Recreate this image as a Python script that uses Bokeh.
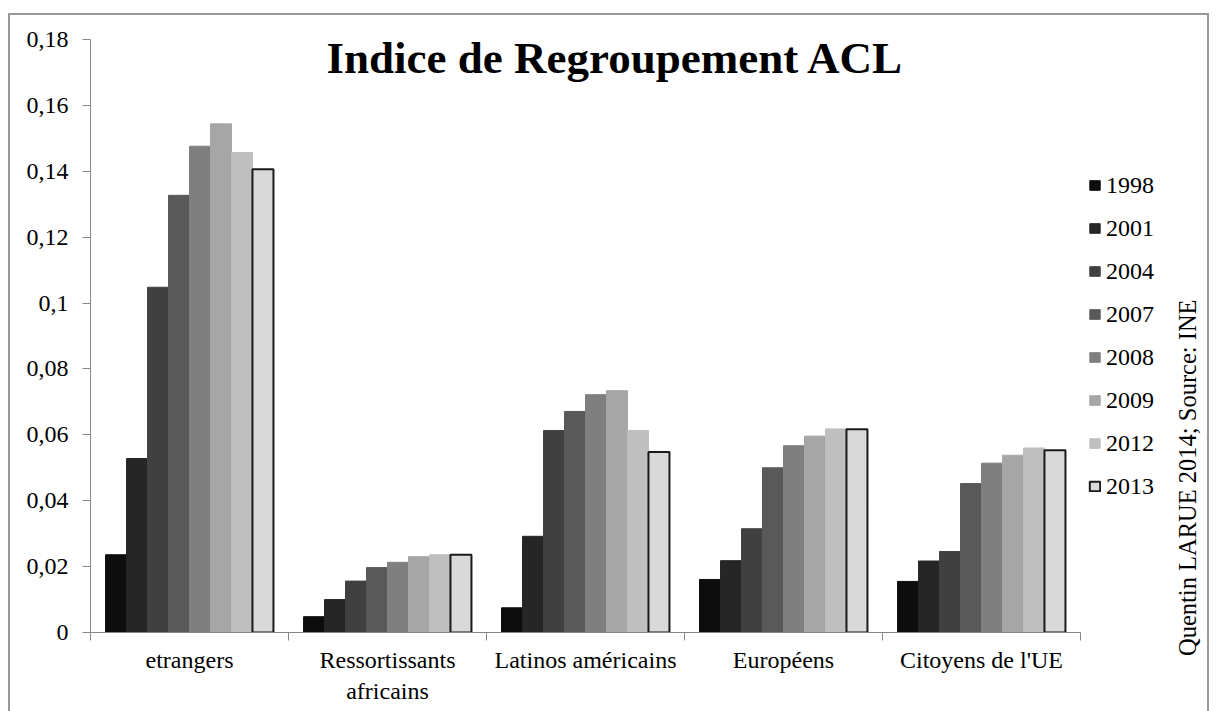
from bokeh.plotting import figure
from bokeh.models import (Range1d, FixedTicker, CustomJSTickFormatter, Legend, LegendItem, Label,
                          ColumnDataSource, Spacer, Div)
from bokeh.transform import dodge
from bokeh.layouts import column, row
from bokeh.embed import file_html
from bokeh.resources import INLINE

# ---------------- data ----------------
categories = ["etrangers", "Ressortissants\nafricains", "Latinos américains", "Européens", "Citoyens de l'UE"]
years = ["1998", "2001", "2004", "2007", "2008", "2009", "2012", "2013"]
v1998 = [0.0236, 0.0048, 0.0075, 0.0161, 0.0155]
v2001 = [0.0528, 0.0100, 0.0292, 0.0218, 0.0217]
v2004 = [0.1048, 0.0156, 0.0613, 0.0315, 0.0246]
v2007 = [0.1327, 0.0197, 0.0671, 0.0500, 0.0452]
v2008 = [0.1476, 0.0213, 0.0722, 0.0567, 0.0514]
v2009 = [0.1544, 0.0230, 0.0734, 0.0596, 0.0538]
v2012 = [0.1457, 0.0236, 0.0613, 0.0618, 0.0560]
v2013 = [0.1406, 0.0236, 0.0548, 0.0617, 0.0553]
y_ticks = [0, 0.02, 0.04, 0.06, 0.08, 0.10, 0.12, 0.14, 0.16, 0.18]
title_text = "Indice de Regroupement ACL"
credit_text = "Quentin LARUE  2014; Source: INE"

series = [v1998, v2001, v2004, v2007, v2008, v2009, v2012, v2013]
colors = ["#0d0d0d", "#262626", "#404040", "#595959", "#7f7f7f", "#a6a6a6", "#bfbfbf", "#d9d9d9"]

FONT = "Liberation Serif"
AXIS_GRAY = "#868686"
n = len(categories)

# category slots: one unit per category (centre at i + 0.5)
data = {"pos": [i + 0.5 for i in range(n)]}
for yr, vals in zip(years, series):
    data["y" + yr] = vals
src = ColumnDataSource(data)

# main chart: frame runs past the last category to host the legend
x_end = n * (1165 - 90) / (1080 - 90)

p = figure(x_range=Range1d(0, x_end), y_range=Range1d(0, 0.18),
           width=1157, height=698, output_backend="svg", toolbar_location=None,
           min_border_left=82, min_border_right=0, min_border_top=26, min_border_bottom=79)
p.xgrid.visible = False
p.ygrid.visible = False
p.outline_line_color = None
p.background_fill_alpha = 0
p.border_fill_alpha = 0

# y axis
yax = p.yaxis[0]
yax.ticker = FixedTicker(ticks=y_ticks)
yax.formatter = CustomJSTickFormatter(code="return (Math.round(tick*100)/100).toString().replace('.', ',');")
yax.major_label_text_font = FONT
yax.major_label_text_font_size = "24px"
yax.major_label_text_color = "#000000"
yax.major_tick_out = 8
yax.major_tick_in = 0
yax.minor_tick_line_color = None
yax.axis_line_color = AXIS_GRAY
yax.major_tick_line_color = AXIS_GRAY
yax.major_label_standoff = 14

# x axis: labels at category centres, tick marks at category boundaries
xax = p.xaxis[0]
xax.ticker = FixedTicker(ticks=[i + 0.5 for i in range(n)], minor_ticks=list(range(n + 1)))
xax.formatter = CustomJSTickFormatter(args=dict(names=categories),
                                      code="const k = Math.round(tick - 0.5); return (k >= 0 && k < names.length) ? names[k] : '';")
xax.bounds = (0, n)
xax.axis_line_color = AXIS_GRAY
xax.major_tick_line_color = None
xax.major_tick_out = 0
xax.major_tick_in = 0
xax.minor_tick_line_color = AXIS_GRAY
xax.minor_tick_out = 8
xax.minor_tick_in = 0
xax.major_label_standoff = 6
xax.major_label_text_font = FONT
xax.major_label_text_font_size = "24px"
xax.major_label_text_color = "#000000"

# bars
bw = 0.106
renderers = []
for i, yr in enumerate(years):
    off = (i - 3.5) * bw
    if yr == "2013":
        r = p.vbar(x=dodge("pos", off), top="y" + yr, width=bw, source=src,
                   fill_color=colors[i], line_color="#1a1a1a", line_width=2)
    else:
        r = p.vbar(x=dodge("pos", off), top="y" + yr, width=bw, source=src,
                   fill_color=colors[i], line_color=colors[i], line_width=1)
    renderers.append(r)

legend = Legend(items=[LegendItem(label=yr, renderers=[r]) for yr, r in zip(years, renderers)],
                location=(998, 132), padding=0, margin=0, spacing=15,
                glyph_width=13, glyph_height=12, label_height=28, label_standoff=5,
                label_text_font=FONT, label_text_font_size="24px", label_text_color="#000000",
                background_fill_alpha=0, border_line_color=None)
p.add_layout(legend)

p.add_layout(Label(x=525, y=575, x_units="screen", y_units="screen", text=title_text,
                   text_align="center", text_baseline="alphabetic",
                   text_font=FONT, text_font_size="45px", text_font_style="bold", text_color="#000000"))

# narrow strip on the right for the vertical credit line (reads bottom to top)
credit_html = (
    '<div style="writing-mode: vertical-rl; transform: rotate(180deg); width: 44px; height: 698px; '
    'box-sizing: border-box; padding-bottom: 232px; padding-right: 11px; text-align: center; '
    "font-family: 'Liberation Serif'; font-size: 24.5px; line-height: 1; white-space: nowrap; "
    'color: #000000; margin: 0;">' + credit_text + '</div>'
)
credit = Div(text=credit_html, width=44, height=698, margin=0)

chart = row(p, credit)
chart.styles = {"box-shadow": "inset 2px 2px 0 0 #9a9a9a, inset -2px 0 0 0 #9a9a9a"}

layout = column(Spacer(height=13, width=10), row(Spacer(width=8, height=10), chart))
open("out.html", "w").write(file_html(layout, INLINE))
